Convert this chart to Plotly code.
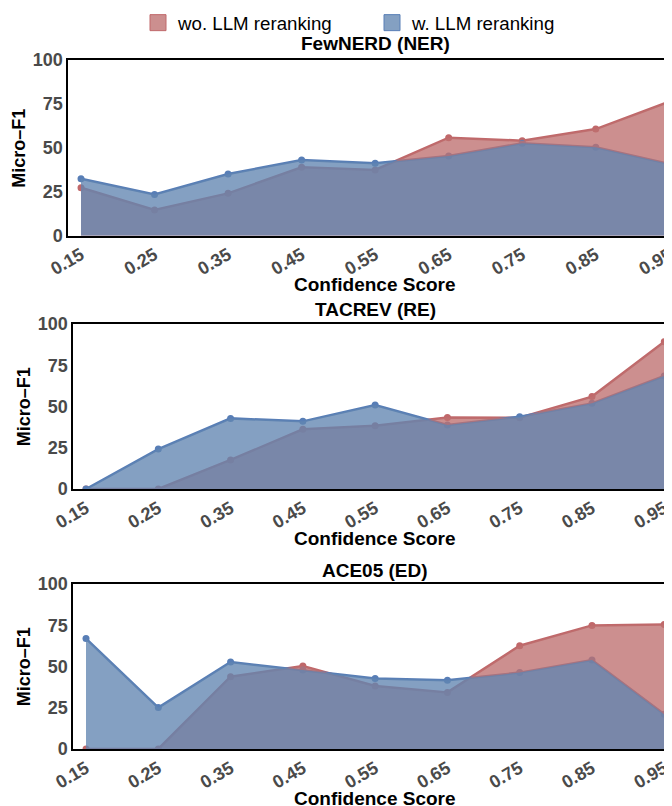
import plotly.graph_objects as go

# ---------------- data ----------------
conf = [0.15, 0.25, 0.35, 0.45, 0.55, 0.65, 0.75, 0.85, 0.95]
tick_labels = ["0.15", "0.25", "0.35", "0.45", "0.55", "0.65", "0.75", "0.85", "0.95"]
y_ticks = [0, 25, 50, 75, 100]

panel_titles = ["FewNERD (NER)", "TACREV (RE)", "ACE05 (ED)"]
series_names = ["wo. LLM reranking", "w. LLM reranking"]

fewnerd_wo = [27.3, 14.6, 24.1, 38.9, 37.4, 55.8, 54.1, 60.7, 76.3]
fewnerd_w = [32.4, 23.5, 35.1, 43.1, 41.2, 45.4, 52.6, 50.3, 40.8]
tacrev_wo = [0, 0, 17.6, 36.2, 38.4, 43.4, 43.2, 56.0, 89.3]
tacrev_w = [0, 24.2, 42.8, 41.0, 50.9, 38.8, 43.8, 51.9, 68.5]
ace_wo = [0, 0, 43.8, 50.3, 38.2, 34.3, 62.6, 74.9, 75.4]
ace_w = [66.9, 25.1, 52.7, 47.9, 42.8, 41.6, 46.3, 53.9, 21.0]

panels_wo = [fewnerd_wo, tacrev_wo, ace_wo]
panels_w = [fewnerd_w, tacrev_w, ace_w]

# ---------------- style ----------------
OFF = 8                      # page body margin
W, H = 672 - OFF, 806 - OFF  # figure size so the page lines up with the window
RED_LINE = "rgb(192,104,106)"
BLUE_LINE = "rgb(88,126,182)"
RED_FILL = "rgba(190,111,111,0.78)"
BLUE_FILL = "rgba(97,133,177,0.78)"
RED_SWATCH = "rgb(204,143,143)"
BLUE_SWATCH = "rgb(132,160,194)"
FONT = "Liberation Sans, Arial, sans-serif"
TICK_COLOR = "#4a4a4a"


def px_x(px):
    return (px - OFF) / W


def px_y(py):
    return 1 - (py - OFF) / H


# window-pixel geometry of each panel
geo = [
    dict(top=60, bottom=235.7, left=68.3, right=672, xr=[0.1327, 0.9537]),
    dict(top=324, bottom=489, left=73.3, right=672, xr=[0.1324, 0.9607]),
    dict(top=584, bottom=749, left=73.3, right=672, xr=[0.1324, 0.9607]),
]
title_y = [43, 309.5, 570]

fig = go.Figure()
annotations = []

for i in range(3):
    sfx = "" if i == 0 else str(i + 1)
    xa, ya = "x" + sfx, "y" + sfx
    wo, w = panels_wo[i], panels_w[i]
    # lines first (under fills)
    fig.add_trace(go.Scatter(x=conf, y=wo, mode="lines+markers", xaxis=xa, yaxis=ya,
                             line=dict(color=RED_LINE, width=2.5),
                             marker=dict(color=RED_LINE, size=7), showlegend=False))
    fig.add_trace(go.Scatter(x=conf, y=w, mode="lines+markers", xaxis=xa, yaxis=ya,
                             line=dict(color=BLUE_LINE, width=2.5),
                             marker=dict(color=BLUE_LINE, size=7), showlegend=False))
    # fills on top
    fig.add_trace(go.Scatter(x=conf, y=wo, mode="none", fill="tozeroy", fillcolor=RED_FILL,
                             xaxis=xa, yaxis=ya, showlegend=False))
    fig.add_trace(go.Scatter(x=conf, y=w, mode="none", fill="tozeroy", fillcolor=BLUE_FILL,
                             xaxis=xa, yaxis=ya, showlegend=False))

    g = geo[i]
    dom_y = [px_y(g["bottom"]), px_y(g["top"])]
    dom_x = [px_x(g["left"]), min(1.0, px_x(g["right"]))]
    fig.layout["xaxis" + sfx] = dict(
        domain=dom_x, range=g["xr"], anchor=ya, tickvals=conf, ticktext=tick_labels,
        tickangle=-30, showgrid=False, zeroline=False, showline=True, mirror=True,
        linecolor="black", linewidth=2, ticks="", automargin=False,
        ticklabeloverflow="allow",
        tickfont=dict(family=FONT, size=18, color=TICK_COLOR, weight="bold"),
    )
    fig.layout["yaxis" + sfx] = dict(
        domain=dom_y, range=[0, 100], anchor=xa, tickvals=y_ticks, showgrid=False,
        zeroline=False, showline=True, linecolor="black", linewidth=2, ticks="",
        automargin=False, ticklabeloverflow="allow",
        tickfont=dict(family=FONT, size=18, color=TICK_COLOR, weight="bold"),
    )
    cx = px_x(375)
    annotations.append(dict(text=panel_titles[i], x=cx, y=px_y(title_y[i]), xref="paper",
                            yref="paper", showarrow=False, xanchor="center", yanchor="middle",
                            font=dict(family=FONT, size=19, color="black", weight="bold")))
    annotations.append(dict(text="Confidence Score", x=cx, y=px_y(g["bottom"] + 49),
                            xref="paper", yref="paper", showarrow=False, xanchor="center",
                            yanchor="middle",
                            font=dict(family=FONT, size=19, color="black", weight="bold")))
    annotations.append(dict(text="Micro\u2013F1", x=px_x(g["left"] - 49.5),
                            y=px_y((g["top"] + g["bottom"]) / 2), xref="paper", yref="paper",
                            showarrow=False, xanchor="center", yanchor="middle", textangle=-90,
                            font=dict(family=FONT, size=18, color="black", weight="bold")))

# legend proxies
fig.add_trace(go.Scatter(x=[None], y=[None], mode="markers", name=series_names[0],
                         marker=dict(symbol="square", size=16, color=RED_SWATCH,
                                     line=dict(color=RED_LINE, width=1))))
fig.add_trace(go.Scatter(x=[None], y=[None], mode="markers", name=series_names[1],
                         marker=dict(symbol="square", size=16, color=BLUE_SWATCH,
                                     line=dict(color=BLUE_LINE, width=1))))

fig.update_layout(
    template="none",
    width=W, height=H, margin=dict(l=0, r=0, t=0, b=0, autoexpand=False),
    paper_bgcolor="white", plot_bgcolor="white",
    annotations=annotations,
    legend=dict(orientation="h", x=px_x(138), xanchor="left", y=px_y(23), yanchor="middle",
                font=dict(family=FONT, size=18.7, color="black"),
                entrywidth=189, entrywidthmode="pixels", bgcolor="rgba(0,0,0,0)"),
)

fig.write_html("out.html")
